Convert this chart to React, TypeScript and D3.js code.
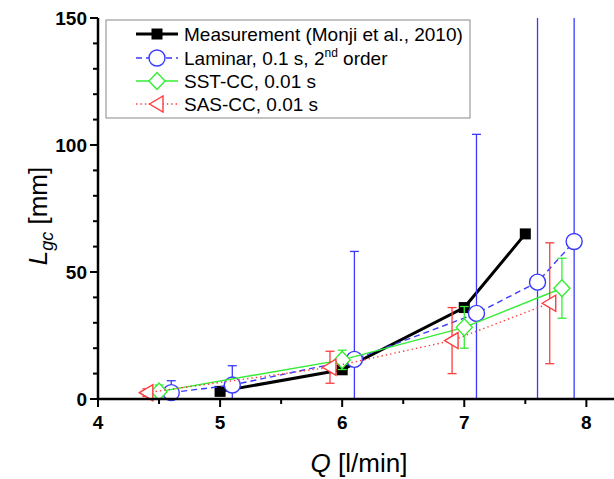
import React from "react";
import * as d3 from "d3";

const measQ = [5, 6, 7, 7.5];
const measL = [3, 11.5, 36, 65];

const lamQ = [4.6, 5.1, 6.1, 7.1, 7.6, 7.9];
const lamL = [2.5, 5.5, 15.6, 33.7, 46, 62];
const lamErr = [4.7, 7.6, 42.5, 70.5, 120, 110];

const sstQ = [4.5, 6.0, 7.0, 7.8];
const sstL = [2.9, 15.4, 28.2, 43.6];
const sstErr = [2.6, 3.8, 8.2, 11.8];

const sasQ = [4.4, 5.9, 6.9, 7.7];
const sasL = [2.5, 12.5, 23, 37.7];
const sasErr = [1.5, 6.3, 13, 23.8];

const xMajor = [4, 5, 6, 7, 8];
const xMinor = [4.5, 5.5, 6.5, 7.5];
const yMajor = [0, 50, 100, 150];
const yMinor = [10, 20, 30, 40, 60, 70, 80, 90, 110, 120, 130, 140];

const legendLabels = [
  "Measurement (Monji et al., 2010)",
  "Laminar, 0.1 s, 2",
  "SST-CC, 0.01 s",
  "SAS-CC, 0.01 s",
];

const W = 614;
const H = 479;
const FONT = "'Liberation Sans', Arial, sans-serif";

const BLUE = "#3a3aff";
const GREEN = "#33ee33";
const RED = "#ff3c3c";

export default function App() {
  const x = d3.scaleLinear().domain([4, 8.21]).range([98, 612]);
  const y = d3.scaleLinear().domain([0, 150]).range([399, 18]);
  const line = d3
    .line<[number, number]>()
    .x((d) => x(d[0]))
    .y((d) => y(d[1]));

  const pts = (qs: number[], ls: number[]) =>
    qs.map((q, i) => [q, ls[i]] as [number, number]);

  const errBars = (qs: number[], ls: number[], es: number[], color: string) =>
    qs.map((q, i) => {
      const cx = x(q);
      const yt = y(ls[i] + es[i]);
      const yb = y(ls[i] - es[i]);
      return (
        <g key={i} stroke={color} strokeWidth={1.3}>
          <line x1={cx} x2={cx} y1={yt} y2={yb} />
          <line x1={cx - 4.5} x2={cx + 4.5} y1={yt} y2={yt} />
          <line x1={cx - 4.5} x2={cx + 4.5} y1={yb} y2={yb} />
        </g>
      );
    });

  const square = (cx: number, cy: number, k: any) => (
    <rect key={k} x={cx - 5.5} y={cy - 5.5} width={11} height={11} fill="#000" />
  );
  const circle = (cx: number, cy: number, k: any) => (
    <circle key={k} cx={cx} cy={cy} r={8} fill="#fff" stroke={BLUE} strokeWidth={1.4} />
  );
  const diamond = (cx: number, cy: number, k: any) => (
    <path
      key={k}
      d={`M${cx - 8},${cy} L${cx},${cy - 8.5} L${cx + 8},${cy} L${cx},${cy + 8.5} Z`}
      fill="#fff"
      stroke={GREEN}
      strokeWidth={1.4}
    />
  );
  const tri = (cx: number, cy: number, k: any) => (
    <path
      key={k}
      d={`M${cx - 7.5},${cy} L${cx + 6},${cy - 8} L${cx + 6},${cy + 8} Z`}
      fill="#fff"
      stroke={RED}
      strokeWidth={1.4}
    />
  );

  const legRows = [34, 58, 81, 104];
  const lx1 = 136;
  const lx2 = 178;
  const lmx = 157;

  return (
    <svg
      width={W}
      height={H}
      style={{ position: "absolute", left: 0, top: 0, background: "#fff" }}
      fontFamily={FONT}
    >
      <defs>
        <clipPath id="plot">
          <rect x={98} y={18} width={520} height={381} />
        </clipPath>
      </defs>
      <rect x={0} y={0} width={W} height={H} fill="#fff" />

      {/* Series: measurement */}
      <path d={line(pts(measQ, measL)) || ""} fill="none" stroke="#000" strokeWidth={3} />
      {measQ.map((q, i) => square(x(q), y(measL[i]), "m" + i))}

      {/* Laminar */}
      <g clipPath="url(#plot)">{errBars(lamQ, lamL, lamErr, BLUE)}</g>
      <path
        d={line(pts(lamQ, lamL)) || ""}
        fill="none"
        stroke={BLUE}
        strokeWidth={1.4}
        strokeDasharray="6,4"
      />
      {lamQ.map((q, i) => circle(x(q), y(lamL[i]), "l" + i))}

      {/* SST */}
      <g clipPath="url(#plot)">{errBars(sstQ, sstL, sstErr, GREEN)}</g>
      <path d={line(pts(sstQ, sstL)) || ""} fill="none" stroke={GREEN} strokeWidth={1.4} />
      {sstQ.map((q, i) => diamond(x(q), y(sstL[i]), "s" + i))}

      {/* SAS */}
      <g clipPath="url(#plot)">{errBars(sasQ, sasL, sasErr, RED)}</g>
      <path
        d={line(pts(sasQ, sasL)) || ""}
        fill="none"
        stroke={RED}
        strokeWidth={1.4}
        strokeDasharray="1.4,3"
      />
      {sasQ.map((q, i) => tri(x(q), y(sasL[i]), "a" + i))}

      {/* Axes */}
      <g stroke="#000" strokeWidth={2.5}>
        <line x1={x(4)} x2={W} y1={y(0)} y2={y(0)} />
        <line x1={x(4)} x2={x(4)} y1={y(0) + 1} y2={y(150)} />
      </g>
      <g stroke="#000" strokeWidth={2}>
        {xMajor.map((v) => (
          <line key={"xM" + v} x1={x(v)} x2={x(v)} y1={y(0)} y2={y(0) + 8} />
        ))}
        {xMinor.map((v) => (
          <line key={"xm" + v} x1={x(v)} x2={x(v)} y1={y(0)} y2={y(0) + 5} />
        ))}
        {yMajor.map((v) => (
          <line key={"yM" + v} x1={x(4) - 8} x2={x(4)} y1={y(v)} y2={y(v)} />
        ))}
        {yMinor.map((v) => (
          <line key={"ym" + v} x1={x(4) - 5} x2={x(4)} y1={y(v)} y2={y(v)} />
        ))}
      </g>
      <g fontSize={19} fontWeight="bold" fill="#000">
        {xMajor.map((v) => (
          <text key={"xt" + v} x={x(v)} y={429} textAnchor="middle">
            {v}
          </text>
        ))}
        {yMajor.map((v) => (
          <text key={"yt" + v} x={87} y={y(v) + 7} textAnchor="end">
            {v}
          </text>
        ))}
      </g>

      {/* Axis titles */}
      <text x={359} y={472} textAnchor="middle" fontSize={26} fill="#000">
        <tspan fontStyle="italic">Q</tspan>
        <tspan> [l/min]</tspan>
      </text>
      <text
        transform="translate(47,216) rotate(-90)"
        textAnchor="middle"
        fontSize={26}
        fill="#000"
      >
        <tspan fontStyle="italic">L</tspan>
        <tspan fontStyle="italic" fontSize={18} dy={6}>
          gc
        </tspan>
        <tspan dy={-6}> [mm]</tspan>
      </text>

      {/* Legend */}
      <rect x={106} y={20} width={364} height={98} fill="#fff" stroke="#888" strokeWidth={1} />
      <line x1={lx1} x2={lx2} y1={legRows[0]} y2={legRows[0]} stroke="#000" strokeWidth={3} />
      {square(lmx, legRows[0], "lg0")}
      <line
        x1={lx1}
        x2={lx2}
        y1={legRows[1]}
        y2={legRows[1]}
        stroke={BLUE}
        strokeWidth={1.4}
        strokeDasharray="6,4"
      />
      {circle(lmx, legRows[1], "lg1")}
      <line x1={lx1} x2={lx2} y1={legRows[2]} y2={legRows[2]} stroke={GREEN} strokeWidth={1.4} />
      {diamond(lmx, legRows[2], "lg2")}
      <line
        x1={lx1}
        x2={lx2}
        y1={legRows[3]}
        y2={legRows[3]}
        stroke={RED}
        strokeWidth={1.4}
        strokeDasharray="1.4,3"
      />
      {tri(lmx, legRows[3], "lg3")}
      <g fontSize={19} fill="#000">
        {legendLabels.map((t, i) => (
          <text key={"lt" + i} x={184} y={legRows[i] + 7}>
            {t}
            {i === 1 ? (
              <>
                <tspan fontSize={12} dy={-8}>
                  nd
                </tspan>
                <tspan dy={8}> order</tspan>
              </>
            ) : null}
          </text>
        ))}
      </g>
    </svg>
  );
}
